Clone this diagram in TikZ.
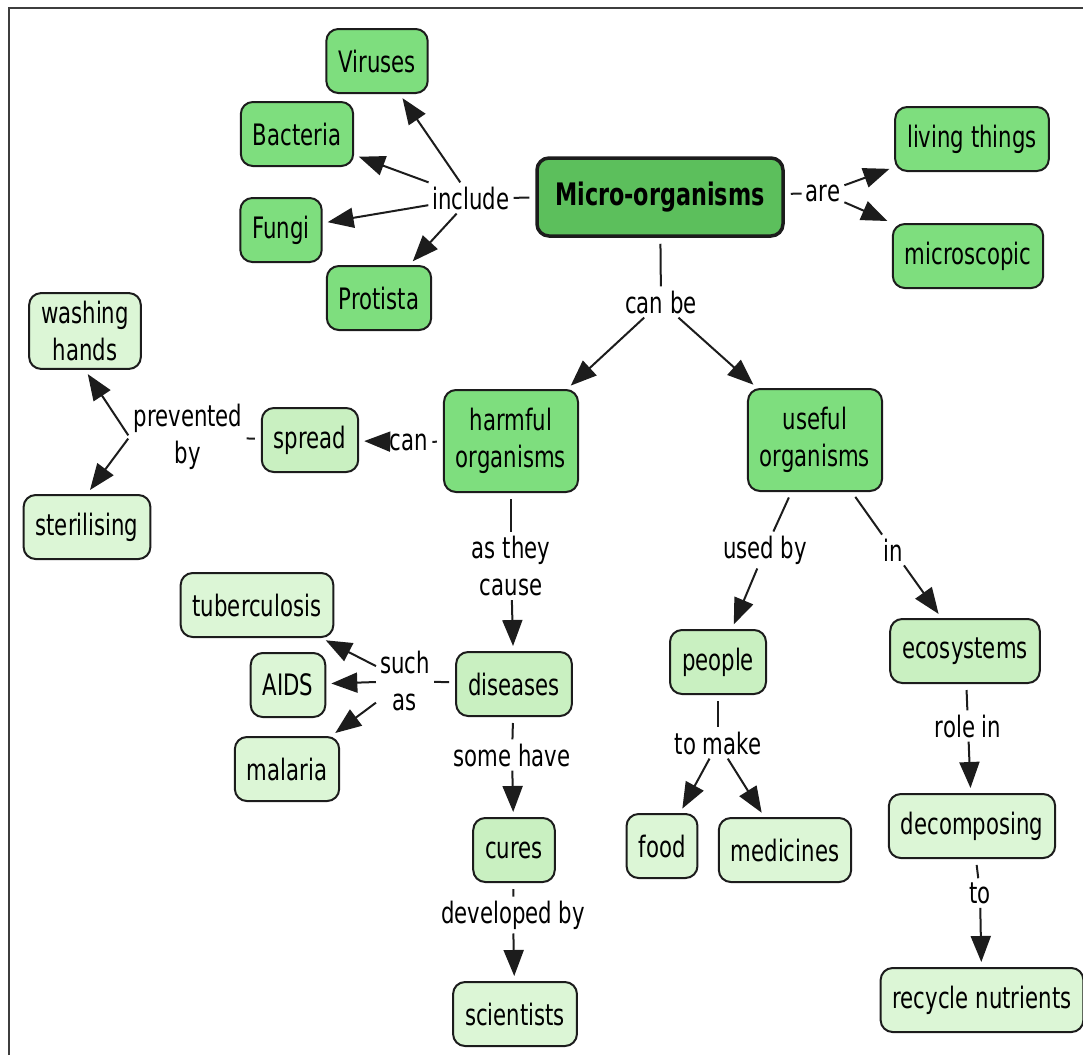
\documentclass[tikz,border=0pt]{standalone}
\usepackage{fontspec}
\setmainfont[FakeStretch=0.72]{DejaVu Sans}
\usetikzlibrary{arrows.meta}
\definecolor{edge}{HTML}{1C1C1C}
\definecolor{mainfill}{HTML}{5CBF5C}
\definecolor{midfill}{HTML}{7EDE7E}
\definecolor{softfill}{HTML}{C9F0C1}
\definecolor{palefill}{HTML}{DCF6D6}

\begin{document}
\begin{tikzpicture}[
  x=1pt,y=-1pt,
  font=\fontsize{29.5}{37}\selectfont,
  concept/.style={draw=edge,line width=2pt,rounded corners=12pt,minimum height=64pt,inner xsep=12pt,inner ysep=8pt,align=center},
  mainbox/.style={concept,line width=3.5pt,fill=mainfill,minimum width=246pt,minimum height=78pt,font=\fontsize{31}{37}\selectfont\bfseries},
  midbox/.style={concept,fill=midfill},
  softbox/.style={concept,fill=softfill},
  palebox/.style={concept,fill=palefill},
  link/.style={inner sep=4pt,align=center},
  line/.style={line width=2pt,draw=edge,shorten <=6pt},
  arr/.style={line width=2pt,draw=edge,-{Triangle[length=26pt,width=20pt]},shorten >=5pt}
]
\useasboundingbox (0,0) rectangle (1083,1055);
\draw[line width=2.8pt,draw=edge!85] (9,1055) -- (9,8) -- (1083,8);

\node[mainbox] (micro) at (660,197) {Micro-organisms};
\node[midbox] (vir) at (377,61) {Viruses};
\node[midbox] (bac) at (297,134) {Bacteria};
\node[midbox] (fun) at (281,230) {Fungi};
\node[midbox] (pro) at (379,298) {Protista};
\node[midbox] (liv) at (972,139) {living things};
\node[midbox] (mic) at (968,256) {microscopic};
\node[midbox,minimum height=102pt] (harm) at (511,441) {harmful\\organisms};
\node[midbox,minimum height=102pt] (use) at (815,440) {useful\\organisms};
\node[softbox] (spread) at (310,440) {spread};
\node[palebox] (wash) at (85,331) {washing\\hands};
\node[palebox] (ster) at (87,527) {sterilising};
\node[palebox] (tub) at (257,605) {tuberculosis};
\node[palebox] (aids) at (288,685) {AIDS};
\node[palebox] (mal) at (287,769) {malaria};
\node[softbox] (dis) at (514,684) {diseases};
\node[softbox] (cur) at (514,850) {cures};
\node[palebox] (sci) at (515,1014) {scientists};
\node[softbox] (peo) at (718,662) {people};
\node[palebox] (food) at (662,846) {food};
\node[palebox] (med) at (785,850) {medicines};
\node[softbox] (eco) at (965,651) {ecosystems};
\node[palebox] (dec) at (972,826) {decomposing};
\node[palebox] (rec) at (982,1000) {recycle nutrients};

\node[link] (incl) at (471,198) {include};
\node[link] (are) at (823,193) {are};
\node[link] (canbe) at (661,302) {can be};
\node[link] (can) at (409,442) {can};
\node[link] (prev) at (188,437) {prevented\\by};
\node[link] (cause) at (511,566) {as they\\cause};
\node[link] (such) at (405,681) {such\\as};
\node[link] (some) at (512,755) {some have};
\node[link] (devby) at (513,915) {developed by};
\node[link] (usedby) at (765,550) {used by};
\node[link] (inlink) at (893,550) {in};
\node[link] (make) at (718,743) {to make};
\node[link] (role) at (968,726) {role in};
\node[link] (tolink) at (980,893) {to};

\draw[line] (micro) -- (incl);
\draw[arr] (incl) -- (vir);
\draw[arr] (incl) -- (bac);
\draw[arr] (incl) -- (fun);
\draw[arr] (incl) -- (pro);
\draw[line] (micro) -- (are);
\draw[arr] (are) -- (liv);
\draw[arr] (are) -- (mic);
\draw[line] (micro) -- (canbe);
\draw[arr] (canbe) -- (harm);
\draw[arr] (canbe) -- (use);
\draw[line] (harm) -- (can);
\draw[arr] (can) -- (spread);
\draw[line] (spread) -- (prev);
\draw[arr,shorten <=2pt] (prev.west) -- (wash.south);
\draw[arr,shorten <=2pt] (prev.west) -- (ster.north);
\draw[line] (harm) -- (cause);
\draw[arr] (cause) -- (dis);
\draw[line] (dis) -- (such);
\draw[arr] (such) -- (tub);
\draw[arr] (such) -- (aids);
\draw[arr] (such) -- (mal);
\draw[line] (dis) -- (some);
\draw[arr] (some) -- (cur);
\draw[line] (cur) -- (devby);
\draw[arr] (devby) -- (sci);
\draw[line] (use) -- (usedby);
\draw[arr] (usedby) -- (peo);
\draw[line] (use) -- (inlink);
\draw[arr] (inlink) -- (eco);
\draw[line] (peo) -- (make);
\draw[arr] (make) -- (food);
\draw[arr] (make) -- (med);
\draw[line] (eco) -- (role);
\draw[arr] (role) -- (dec);
\draw[line] (dec) -- (tolink);
\draw[arr] (tolink) -- (rec);
\end{tikzpicture}
\end{document}
